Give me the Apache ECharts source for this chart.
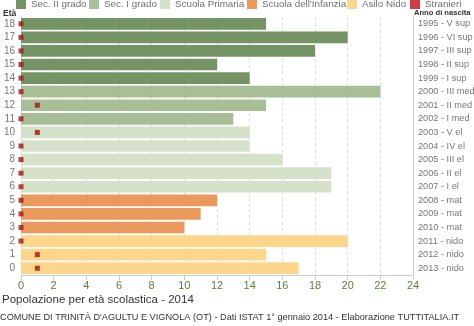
<!DOCTYPE html>
<html><head><meta charset="utf-8">
<script src="https://cdn.jsdelivr.net/npm/echarts@6/dist/echarts.min.js"></script>
<style>html,body{margin:0;padding:0;background:#fff}#c{width:474px;height:326px}</style>
</head><body><div id="c"></div>
<script>
const ages = ['0','1','2','3','4','5','6','7','8','9','10','11','12','13','14','15','16','17','18'];
const birthLabels = ['2013 - nido','2012 - nido','2011 - nido','2010 - mat','2009 - mat','2008 - mat','2007 - I el','2006 - II el','2005 - III el','2004 - IV el','2003 - V el','2002 - I med','2001 - II med','2000 - III med','1999 - I sup','1998 - II sup','1997 - III sup','1996 - VI sup','1995 - V sup'];
const population = [17,15,20,10,11,12,19,19,16,14,14,13,15,22,14,12,18,20,15];
const stranieri = [1,1,0,0,0,0,0,0,0,0,1,0,1,0,0,0,0,0,0];
const groups = ['Asilo Nido','Asilo Nido','Asilo Nido','Scuola dell\'Infanzia','Scuola dell\'Infanzia','Scuola dell\'Infanzia','Scuola Primaria','Scuola Primaria','Scuola Primaria','Scuola Primaria','Scuola Primaria','Sec. I grado','Sec. I grado','Sec. I grado','Sec. II grado','Sec. II grado','Sec. II grado','Sec. II grado','Sec. II grado'];
const seriesNames = ['Sec. II grado','Sec. I grado','Scuola Primaria','Scuola dell\'Infanzia','Asilo Nido'];
const legendNames = [...seriesNames,'Stranieri'];
const colors = {'Sec. II grado':'#6a8c59','Sec. I grado':'#a0b98e','Scuola Primaria':'#d3dfc6','Scuola dell\'Infanzia':'#e8904f','Asilo Nido':'#fdd282','Stranieri':'#c40f0f'};
const xTicks = {min:0,max:24,interval:2};

const legendLeft = [16,89,160,247,347,410];
const chart = echarts.init(document.getElementById('c'));
const barSeries = seriesNames.map(n => ({
  name:n, type:'bar', stack:'p', yAxisIndex:0,
  barCategoryGap:'14%',
  itemStyle:{color:colors[n], opacity:0.93},
  data: population.map((v,i)=> groups[i]===n ? v : null),
  z:2
}));
chart.setOption({
  animation:false,
  textStyle:{fontFamily:'"Liberation Sans", Arial, sans-serif'},
  legend: legendNames.map((n,i)=>({
    top:-1,left:legendLeft[i],itemWidth:10,itemHeight:10,itemGap:5,padding:0,
    textStyle:{color:'#6f6f6f',fontSize:9.8},
    data:[{name:n,icon:'rect',itemStyle:{color:colors[n]}}]
  })),
  grid:{left:21,right:61,top:17,bottom:51,outerBoundsMode:'none',containLabel:false},
  xAxis:{type:'value',min:xTicks.min,max:xTicks.max,interval:xTicks.interval,
    axisLine:{show:true,lineStyle:{color:'#ccc'}},axisTick:{show:true,lineStyle:{color:'#ccc'}},
    axisLabel:{color:'#5b7f3f',fontSize:11,margin:5},
    splitLine:{show:true,lineStyle:{color:'#e2e2e2',type:'dashed'}}},
  yAxis:[
    {type:'category',data:ages,position:'left',axisLine:{show:true,lineStyle:{color:'#ddd'}},axisTick:{show:false},
     axisLabel:{color:'#777',fontSize:10,margin:6}},
    {type:'category',data:birthLabels,position:'right',axisLine:{show:true,lineStyle:{color:'#ccc'}},axisTick:{show:false},
     axisLabel:{color:'#777',fontSize:9.2,margin:5,align:'left'}}
  ],
  series:[...barSeries,{
    name:'Stranieri',type:'scatter',yAxisIndex:0,symbol:'rect',symbolSize:5,
    itemStyle:{color:'#a31212'},z:5,
    data: stranieri.map((v,i)=>[v,i])
  }],
  graphic:[
    {type:'text',left:3,top:9,style:{text:'Età',fontSize:8.5,fontWeight:'bold',fill:'#333'}},
    {type:'text',left:414,top:9,style:{text:'Anno di nascita',fontSize:7.6,fontWeight:'bold',fill:'#333'}},
    {type:'text',left:2,top:294,style:{text:'Popolazione per età scolastica - 2014',fontSize:11.5,fill:'#333'}},
    {type:'text',left:0,top:313,style:{text:'COMUNE DI TRINITÀ D\'AGULTU E VIGNOLA (OT) - Dati ISTAT 1° gennaio 2014 - Elaborazione TUTTITALIA.IT',fontSize:9.2,fill:'#333'}}
  ]
});
</script></body></html>
